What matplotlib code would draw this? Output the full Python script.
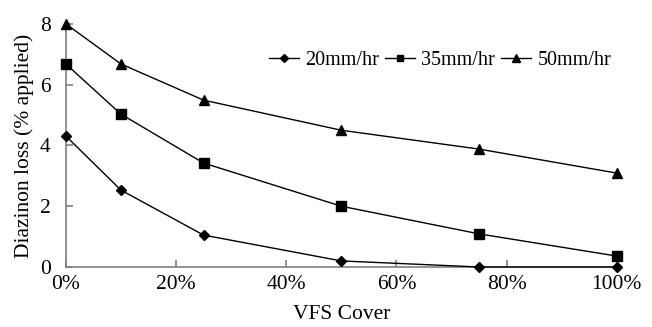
import matplotlib
matplotlib.use("Agg")
import matplotlib.pyplot as plt
from matplotlib.ticker import PercentFormatter

cover = [0, 10, 25, 50, 75, 100]
loss_20 = [4.31, 2.53, 1.05, 0.2, 0.0, 0.0]
loss_35 = [6.68, 5.03, 3.42, 2.0, 1.09, 0.36]
loss_50 = [8.0, 6.68, 5.49, 4.5, 3.88, 3.09]

plt.rcParams['font.family'] = ['Liberation Serif', 'DejaVu Serif']
plt.rcParams['font.size'] = 15.5

fig = plt.figure(figsize=(6.52, 3.27), dpi=100)
ax = fig.add_axes([0.101, 0.1835, 0.845, 0.7435])

ax.plot(cover, loss_20, color='black', lw=1, marker='D', ms=5, label='20mm/hr', clip_on=False, zorder=3)
ax.plot(cover, loss_35, color='black', lw=1, marker='s', ms=6.5, label='35mm/hr', clip_on=False, zorder=3)
ax.plot(cover, loss_50, color='black', lw=1, marker='^', ms=7, label='50mm/hr', clip_on=False, zorder=3)

ax.set_xlim(0, 100)
ax.set_ylim(0, 8)
ax.set_xticks([0, 20, 40, 60, 80, 100])
ax.set_yticks([0, 2, 4, 6, 8])
ax.xaxis.set_major_formatter(PercentFormatter(decimals=0))
ax.spines['top'].set_visible(False)
ax.spines['right'].set_visible(False)
for s in ('left', 'bottom'):
    ax.spines[s].set_color('#808080')
    ax.spines[s].set_linewidth(1.2)
ax.tick_params(direction='in', length=5, color='#808080', width=1.2, pad=6)
ax.tick_params(axis='y', pad=11)

ax.set_xlabel('VFS Cover', labelpad=8)
ax.set_ylabel('Diazinon loss (% applied)', labelpad=4)

ax.legend(loc='center', bbox_to_anchor=(0.675, 0.815), bbox_transform=fig.transFigure,
          ncol=3, frameon=False, fontsize=14.5, handlelength=1.5, handletextpad=0.3,
          columnspacing=0.3, markerscale=0.75)

fig.savefig('out.png', dpi=100)
